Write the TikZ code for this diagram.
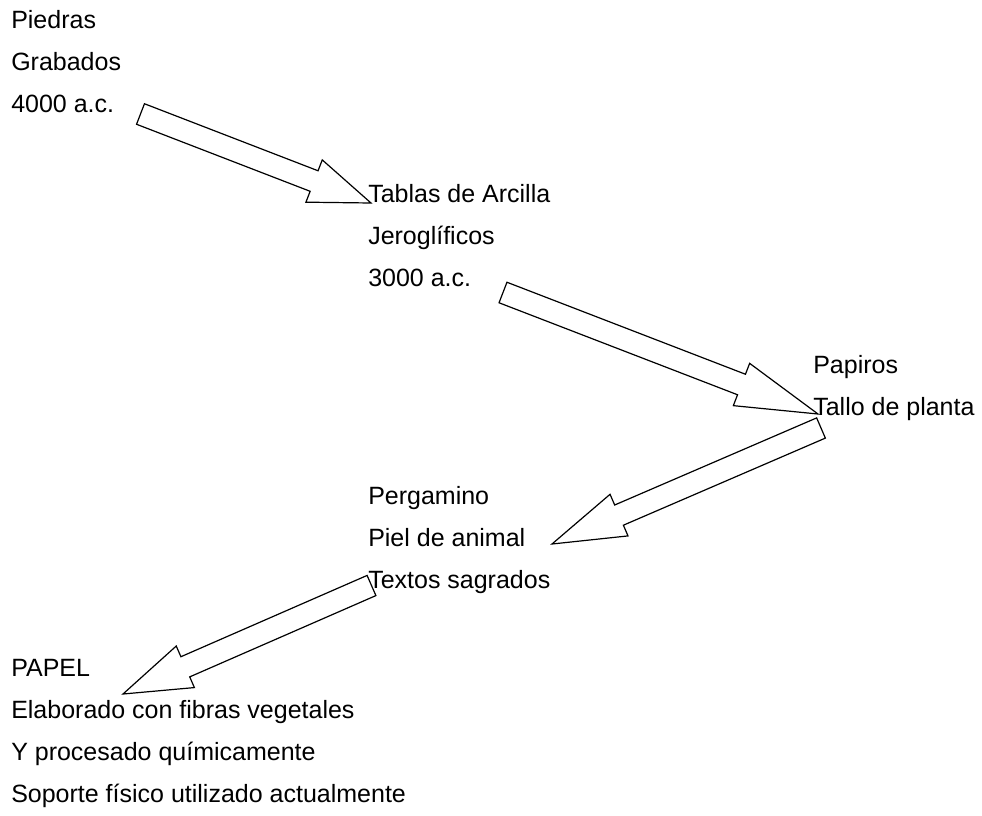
\documentclass[tikz,border=0pt]{standalone}
\usepackage{fontspec}
\setmainfont{Liberation Sans}
\usetikzlibrary{calc}

% block arrow: #1 tail, #2 tip, #3 head length
\newcommand{\blockarrow}[3]{%
  \coordinate (hb) at ($(#2)!#3!(#1)$);
  \draw[arrowline] ($(#1)!8.25pt!90:(#2)$) -- ($(hb)!8.25pt!-90:(#1)$)
    -- ($(hb)!17pt!-90:(#1)$) -- (#2) -- ($(hb)!17pt!90:(#1)$)
    -- ($(hb)!8.25pt!90:(#1)$) -- ($(#1)!8.25pt!-90:(#2)$) -- cycle;}

\tikzset{
  % anchored at the baseline of the last line
  txt/.style={anchor=base west, inner sep=0pt, align=left,
    font=\fontsize{18.75pt}{31.5pt}\selectfont},
  arrowline/.style={draw=black, line width=0.9pt, line join=miter}
}

\begin{document}
\begin{tikzpicture}[x=0.75pt,y=-0.75pt]
    \useasboundingbox (0,0) rectangle (982,815);

    \node[txt] (piedras)   at (11,112)  {Piedras\\Grabados\\4000 a.c.};
    \node[txt] (tablas)    at (368,286) {Tablas de Arcilla\\Jerogl\'ificos\\3000 a.c.};
    \node[txt] (papiros)   at (813,415) {Papiros\\Tallo de planta};
    \node[txt] (pergamino) at (368,588) {Pergamino\\Piel de animal\\Textos sagrados};
    \node[txt] (papel)     at (11,802)  {PAPEL\\Elaborado con fibras vegetales\\Y procesado qu\'imicamente\\Soporte f\'isico utilizado actualmente};

    % arrow ends
    \coordinate (t1) at (140.5,114);  \coordinate (h1) at (371,203);
    \coordinate (t2) at (503,292.5);  \coordinate (h2) at (818,414);
    \coordinate (t3) at (821,428);    \coordinate (h3) at (552,544);
    \coordinate (t4) at (371.5,585.5);\coordinate (h4) at (123,694);

    \blockarrow{t1}{h1}{45.75pt}
    \blockarrow{t2}{h2}{61.5pt}
    \blockarrow{t3}{h3}{54.75pt}
    \blockarrow{t4}{h4}{51pt}
\end{tikzpicture}
\end{document}
